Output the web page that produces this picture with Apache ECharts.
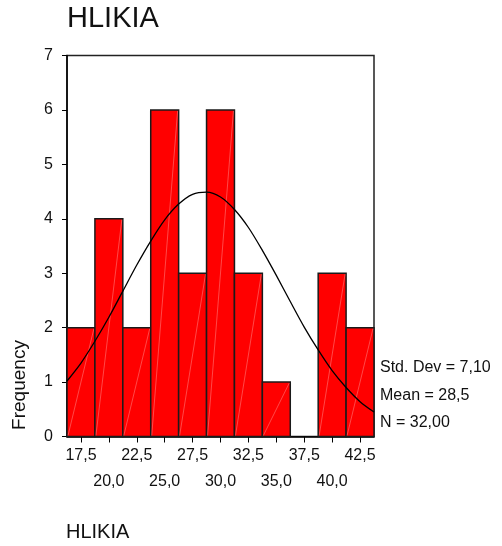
<!DOCTYPE html>
<html>
<head>
<meta charset="utf-8">
<script src="https://cdn.jsdelivr.net/npm/echarts@6/dist/echarts.min.js"></script>
<style>
  html, body { margin: 0; padding: 0; background: #fff; }
  #chart { width: 502px; height: 546px; }
</style>
</head>
<body>
<div id="chart"></div>
<script>
// bin centres and counts (bin width 2.5)
const binCenters = [17.5, 20, 22.5, 25, 27.5, 30, 32.5, 35, 37.5, 40, 42.5]
const counts = [2, 4, 2, 6, 3, 6, 3, 1, 0, 3, 2]
const binWidth = 2.5
// tick labels: SPSS staggers them on two rows
const labelsRow1 = [17.5, 22.5, 27.5, 32.5, 37.5, 42.5]
const labelsRow2 = [20, 25, 30, 35, 40]
// normal curve
const curveX = [16.25, 17.5, 18.75, 20, 21.25, 22.5, 23.75, 25, 26.25, 27.5, 28.75, 30, 31.25, 32.5, 33.75, 35, 36.25, 37.5, 38.75, 40, 41.25, 42.5, 43.75]
const curveY = [1.02, 1.35, 1.75, 2.19, 2.67, 3.15, 3.59, 3.98, 4.27, 4.45, 4.49, 4.40, 4.17, 3.84, 3.42, 2.96, 2.48, 2.01, 1.59, 1.21, 0.90, 0.64, 0.45]
const statsLines = ['Std. Dev = 7,10', 'Mean = 28,5', 'N = 32,00']

const font = 'Liberation Sans, Arial, sans-serif'
const chart = echarts.init(document.getElementById('chart'))

const barData = binCenters.map((c, i) => [c - binWidth / 2, c + binWidth / 2, counts[i]])
const curveData = curveX.map((x, i) => [x, curveY[i]])
const fmt = v => v.toFixed(1).replace('.', ',')

chart.setOption({
  animation: false,
  backgroundColor: '#fff',
  grid: {
    left: 67, right: 128, top: 55.5, bottom: 109.5,
    show: true, borderColor: '#222', borderWidth: 1.5, backgroundColor: 'transparent'
  },
  xAxis: [
    {
      type: 'value',
      min: 16.25,
      max: 43.75,
      axisLine: { show: true, lineStyle: { color: '#000', width: 1.5 } },
      axisTick: { show: true, customValues: binCenters, length: 6, lineStyle: { color: '#000', width: 1 } },
      axisLabel: {
        customValues: labelsRow1,
        showMinLabel: true, showMaxLabel: true,
        margin: 11, fontFamily: font, fontSize: 16, color: '#111',
        formatter: fmt
      },
      splitLine: { show: false }
    },
    {
      type: 'value',
      position: 'bottom',
      min: 16.25,
      max: 43.75,
      axisLine: { show: false },
      axisTick: { show: false },
      axisLabel: {
        customValues: labelsRow2,
        showMinLabel: true, showMaxLabel: true,
        margin: 37, fontFamily: font, fontSize: 16, color: '#111',
        formatter: fmt
      },
      splitLine: { show: false }
    }
  ],
  yAxis: {
    type: 'value',
    min: 0,
    max: 7,
    interval: 1,
    axisLine: { show: true, lineStyle: { color: '#000', width: 1.5 } },
    axisTick: { show: true, length: 5, lineStyle: { color: '#000', width: 1 } },
    axisLabel: { margin: 14, fontFamily: font, fontSize: 16, color: '#111' },
    splitLine: { show: false }
  },
  series: [
    {
      type: 'custom',
      xAxisIndex: 0,
      data: barData,
      encode: { x: [0, 1], y: 2 },
      renderItem: (params, api) => {
        const p0 = api.coord([api.value(0), 0])
        const p1 = api.coord([api.value(1), api.value(2)])
        if (api.value(2) === 0) return null
        return {
          type: 'group',
          children: [
            {
              type: 'rect',
              shape: { x: p0[0], y: p1[1], width: p1[0] - p0[0], height: p0[1] - p1[1] },
              style: { fill: '#ff0000', stroke: '#1a1a1a', lineWidth: 1.5 }
            },
            {
              type: 'line',
              shape: { x1: p0[0] + 1, y1: p0[1] - 1, x2: p1[0] - 1, y2: p1[1] + 1 },
              style: { stroke: 'rgba(255,190,190,0.55)', lineWidth: 0.7 }
            }
          ]
        }
      },
      z: 2
    },
    {
      type: 'line',
      xAxisIndex: 0,
      data: curveData,
      smooth: 0.3,
      symbol: 'none',
      lineStyle: { color: '#000', width: 1.3 },
      z: 3
    }
  ],
  graphic: [
    { type: 'text', left: 67, top: 4, style: { text: 'HLIKIA', font: '29px ' + font, fill: '#111' } },
    { type: 'text', left: 66, top: 522, style: { text: 'HLIKIA', font: '20px ' + font, fill: '#111' } },
    {
      type: 'text', x: 20, y: 385, rotation: Math.PI / 2,
      style: { text: 'Frequency', font: '19px ' + font, fill: '#111', align: 'center', verticalAlign: 'middle' }
    },
    ...statsLines.map((t, i) => ({
      type: 'text', x: 380, y: 368 + i * 27.5,
      style: { text: t, font: '16px ' + font, fill: '#111', verticalAlign: 'middle' }
    }))
  ]
})
</script>
</body>
</html>
